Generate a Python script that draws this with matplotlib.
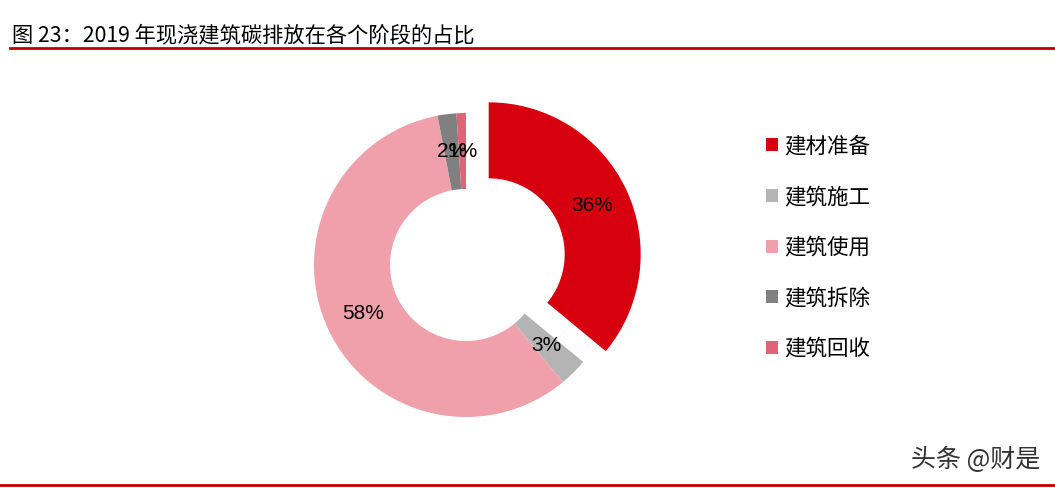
import matplotlib.pyplot as plt
from matplotlib.patches import Patch
from matplotlib.lines import Line2D

plt.rcParams['font.family'] = ['Noto Sans CJK SC', 'DejaVu Sans']

titulo = '图 23：2019 年现浇建筑碳排放在各个阶段的占比'
etapas = ['建材准备', '建筑施工', '建筑使用', '建筑拆除', '建筑回收']
porcentajes = [36, 3, 58, 2, 1]
colores = ['#D7000F', '#B4B4B4', '#F0A0AA', '#808080', '#E06478']

W, H = 1055, 488
fig = plt.figure(figsize=(W / 100, H / 100), dpi=100)

# Ejes del anillo: centro en (466, 265) px, radio 152 px
cx, cy, R = 466, 265, 152
k = 1.45
ax = fig.add_axes([(cx - R * k) / W, (H - cy - R * k) / H, 2 * R * k / W, 2 * R * k / H])
ax.pie(porcentajes, colors=colores, startangle=90, counterclock=False,
       explode=[0.165, 0, 0, 0, 0], radius=1,
       autopct='%.0f%%', pctdistance=0.75,
       wedgeprops=dict(width=0.5, edgecolor='none'),
       textprops=dict(fontsize=15, color='black', family=['Liberation Sans', 'DejaVu Sans']))
ax.set_xlim(-k, k)
ax.set_ylim(-k, k)
ax.axis('off')

# Título y líneas rojas
fig.text(12 / W, 1 - 35 / H, titulo, fontsize=15.3, va='center', ha='left')
fig.add_artist(Line2D([10 / W, 1], [1 - 48 / H] * 2, color='#C00000', linewidth=2))
fig.add_artist(Line2D([0, 1], [1 - 485 / H] * 2, color='#C00000', linewidth=2))

# Leyenda
handles = [Patch(facecolor=c, edgecolor='none') for c in colores]
fig.legend(handles, etapas, loc='upper left', bbox_to_anchor=(747 / W, 1 - 116 / H),
           frameon=False, fontsize=15.5, handlelength=0.55, handleheight=0.55,
           handletextpad=0.3, labelspacing=1.33)

# Marca de agua
fig.text(1040 / W, 1 - 460 / H, '头条 @财是', fontsize=18, ha='right', va='center', color='#333333')

fig.savefig('out.png', dpi=100)
